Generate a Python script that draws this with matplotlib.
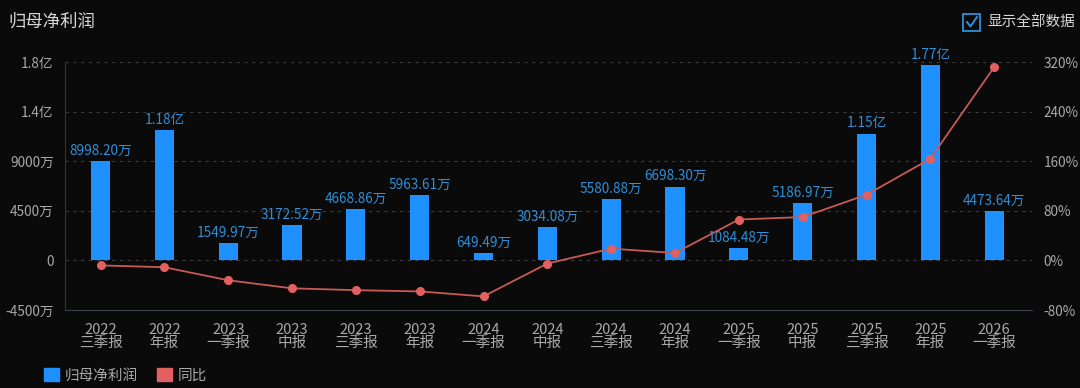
# -*- coding: utf-8 -*-
import numpy as np
import matplotlib
matplotlib.use('Agg')
import matplotlib.pyplot as plt
from matplotlib.patches import Rectangle, Patch
from matplotlib.lines import Line2D
from matplotlib.ticker import FuncFormatter

plt.rcParams['font.family'] = ['Noto Sans CJK SC', 'DejaVu Sans']

# data (net profit in 万元, yoy in %)
years = ['2022', '2022', '2023', '2023', '2023', '2023', '2024', '2024',
         '2024', '2024', '2025', '2025', '2025', '2025', '2026']
periods = ['三季报', '年报', '一季报', '中报', '三季报', '年报', '一季报', '中报',
           '三季报', '年报', '一季报', '中报', '三季报', '年报', '一季报']
profit = [8998.20, 11800, 1549.97, 3172.52, 4668.86, 5963.61, 649.49, 3034.08,
          5580.88, 6698.30, 1084.48, 5186.97, 11500, 17700, 4473.64]
yoy = [-8, -11, -32, -45, -48, -50, -58, -5, 19, 12, 66, 70, 106, 164, 312]

bg = '#0a0a0a'
blue = '#1e90ff'
red = '#c85a55'
txt = '#a8a8a8'

fig = plt.figure(figsize=(10.8, 3.88), dpi=100, facecolor=bg)
ax = fig.add_axes([0.060, 0.201, 0.896, 0.639], facecolor=bg)
ax2 = ax.twinx()

x = np.arange(len(profit))
ax.bar(x, profit, width=0.3, color=blue, zorder=2)
for xi, v in zip(x, profit):
    lab = f'{v/10000:.2f}亿' if v >= 10000 else f'{v:.2f}万'
    ax.text(xi, v + 300, lab, ha='center', va='bottom', color='#2f8fd8', fontsize=9.8)

ax2.plot(x, yoy, color=red, lw=1.3, marker='o', ms=5.5,
         markerfacecolor='#e36060', markeredgecolor='#e36060', zorder=3)

ax.set_xlim(-0.56, 14.6)
ax.set_ylim(-4500, 18000)
ax.set_yticks(np.arange(-4500, 18001, 4500))
ax2.set_ylim(-80, 320)
ax2.set_yticks(np.arange(-80, 321, 80))


def wan_fmt(v, pos):
    if v == 0:
        return '0'
    if abs(v) >= 10000:
        return f'{v/10000:.1f}亿'
    return f'{v:.0f}万'


ax.yaxis.set_major_formatter(FuncFormatter(wan_fmt))
ax2.yaxis.set_major_formatter(FuncFormatter(lambda v, p: f'{v:.0f}%'))

ax.set_xticks(x)
ax.set_xticklabels([f'{y}\n{p}' for y, p in zip(years, periods)], linespacing=0.95)

for a in (ax, ax2):
    a.tick_params(colors=txt, labelsize=9.8, length=0)
    for s in a.spines.values():
        s.set_visible(False)
ax.tick_params(axis='y', pad=8)
ax2.tick_params(axis='y', pad=8)
ax.tick_params(axis='x', pad=9, labelsize=10.5)
ax.spines['left'].set_visible(True)
ax.spines['left'].set_color('#2a3340')
ax.spines['bottom'].set_visible(True)
ax.spines['bottom'].set_color('#3a3f48')

for t in np.arange(0, 18001, 4500):
    ax.axhline(t, color='#3c3c3c', lw=0.8, ls=(0, (3, 4)), zorder=1)

# title
fig.text(0.008, 0.945, '归母净利润', color='#d8d8d8', fontsize=12.5, va='center')

# checkbox
fig.patches.append(Rectangle((963/1080, 1 - 31/388), 17/1080, 17/388,
                             transform=fig.transFigure, fill=False,
                             edgecolor='#2f8fd8', lw=1.3))
fig.lines.append(Line2D([967/1080, 970.5/1080, 977/1080],
                        [1 - 22/388, 1 - 26.5/388, 1 - 17/388],
                        transform=fig.transFigure, color='#2f8fd8', lw=1.4))
fig.text(987/1080, 1 - 22/388, '显示全部数据', color='#d8d8d8', fontsize=10.5, va='center')

# legend
handles = [Patch(color=blue, label='归母净利润'), Patch(color='#e36060', label='同比')]
leg = fig.legend(handles=handles, loc='lower left', bbox_to_anchor=(0.029, -0.02),
                 ncol=2, frameon=False, fontsize=10.5, handlelength=1.0,
                 handleheight=1.0, handletextpad=0.4, columnspacing=1.3)
for t in leg.get_texts():
    t.set_color(txt)

fig.savefig('out.png', dpi=100, facecolor=bg)
